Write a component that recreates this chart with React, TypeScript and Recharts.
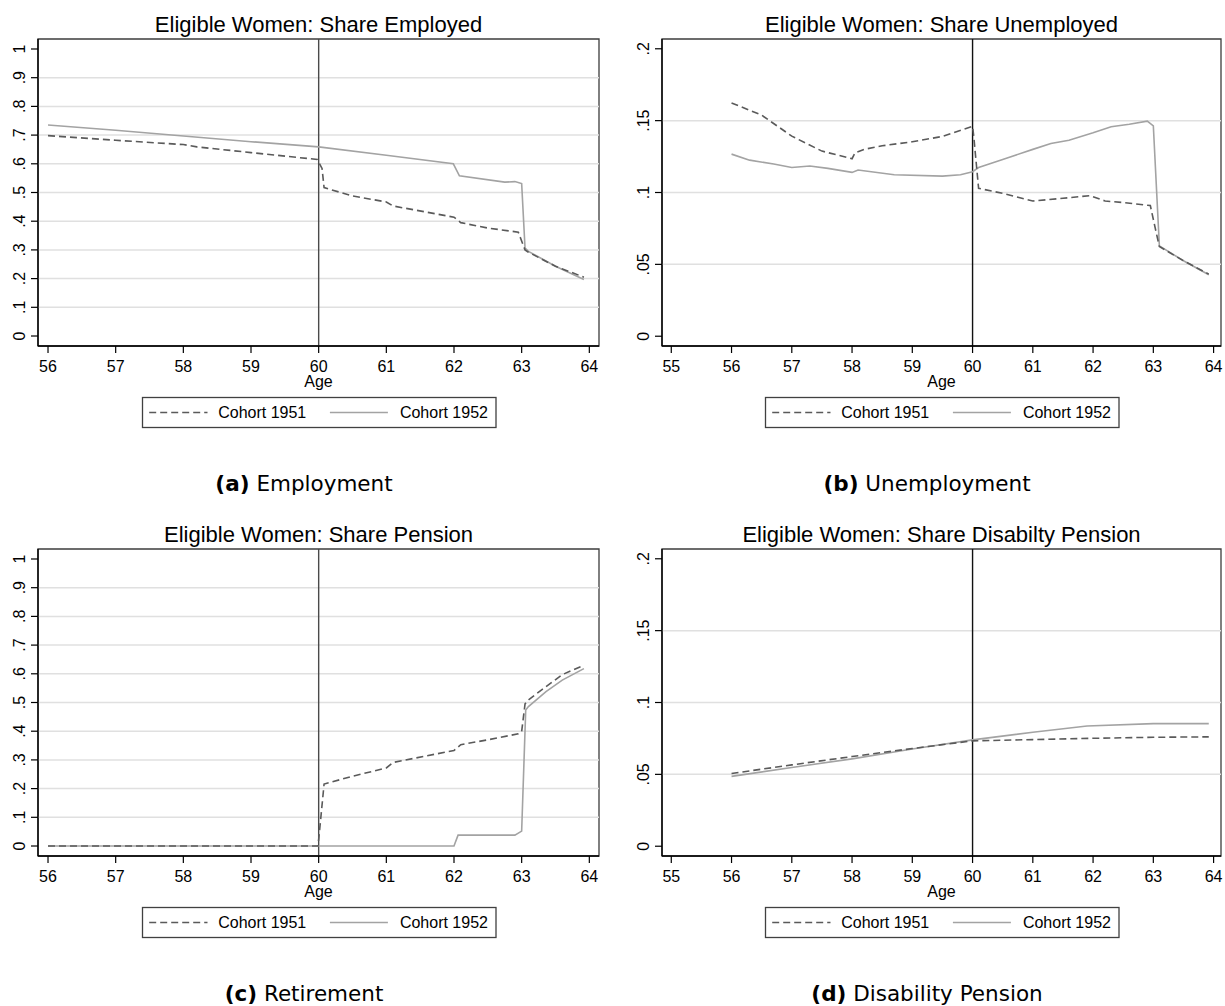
import { Line, LineChart, ReferenceArea, ReferenceLine, XAxis, YAxis } from "recharts"

const FONT = '"Liberation Sans", Arial, Helvetica, sans-serif'
const CAPTION_FONT = '"DejaVu Sans", "Noto Sans", sans-serif'

// axis ticks
const shareTicks = [0, 0.1, 0.2, 0.3, 0.4, 0.5, 0.6, 0.7, 0.8, 0.9, 1]
const smallShareTicks = [0, 0.05, 0.1, 0.15, 0.2]
const agesFrom56 = [56, 57, 58, 59, 60, 61, 62, 63, 64]
const agesFrom55 = [55, 56, 57, 58, 59, 60, 61, 62, 63, 64]

// (a) employment
const empAge1951 = [56, 57, 58, 58.2, 59, 59.98, 60.05, 60.08, 60.5, 61, 61.1, 62, 62.1, 62.5, 62.95, 63.05, 63.1, 63.5, 63.92]
const emp1951 = [0.698, 0.682, 0.667, 0.659, 0.639, 0.615, 0.584, 0.517, 0.488, 0.467, 0.453, 0.414, 0.395, 0.376, 0.362, 0.3, 0.292, 0.243, 0.205]
const empAge1952 = [56, 57, 58, 59, 60, 61, 61.99, 62.08, 62.75, 62.9, 63.0, 63.05, 63.1, 63.5, 63.92]
const emp1952 = [0.735, 0.717, 0.697, 0.677, 0.659, 0.63, 0.6, 0.558, 0.536, 0.538, 0.531, 0.306, 0.295, 0.243, 0.197]

// (b) unemployment
const unempAge1951 = [56, 56.5, 57, 57.5, 58, 58.05, 58.2, 58.5, 59, 59.5, 60, 60.02, 60.1, 60.5, 61, 61.5, 61.95, 62.2, 62.5, 62.95, 63.05, 63.1, 63.5, 63.92]
const unemp1951 = [0.1623, 0.1538, 0.1392, 0.1288, 0.1235, 0.1276, 0.13, 0.1325, 0.1353, 0.139, 0.146, 0.139, 0.1029, 0.0994, 0.0941, 0.096, 0.0978, 0.0941, 0.093, 0.0909, 0.0717, 0.0624, 0.0525, 0.0432]
const unempAge1952 = [56, 56.3, 56.7, 57, 57.3, 57.6, 58, 58.1, 58.7, 59.5, 59.8, 60, 60.1, 60.5, 61, 61.3, 61.6, 62, 62.3, 62.6, 62.9, 63.0, 63.1, 63.5, 63.92]
const unemp1952 = [0.1267, 0.1225, 0.1198, 0.1174, 0.1184, 0.1168, 0.114, 0.1156, 0.1124, 0.1114, 0.1124, 0.1145, 0.1174, 0.123, 0.13, 0.1341, 0.1364, 0.1415, 0.1457, 0.1475, 0.1496, 0.1464, 0.0629, 0.0525, 0.0428]

// (c) retirement
const penAge1951 = [56, 59.99, 60.02, 60.08, 60.5, 61, 61.1, 62, 62.1, 62.5, 62.95, 63.0, 63.05, 63.1, 63.3, 63.6, 63.92]
const pen1951 = [0, 0, 0.07, 0.216, 0.243, 0.272, 0.291, 0.333, 0.353, 0.37, 0.391, 0.399, 0.495, 0.509, 0.545, 0.597, 0.63]
const penAge1952 = [56, 62.0, 62.06, 62.9, 63.0, 63.06, 63.1, 63.36, 63.6, 63.92]
const pen1952 = [0, 0, 0.038, 0.038, 0.052, 0.474, 0.486, 0.538, 0.578, 0.618]

// (d) disability pension
const disAge1951 = [56, 57, 58, 59, 60, 61, 62, 63, 63.92]
const dis1951 = [0.0506, 0.0566, 0.0624, 0.068, 0.0733, 0.0742, 0.0751, 0.0758, 0.0761]
const disAge1952 = [56, 57, 58, 59, 60, 61, 61.9, 63, 63.92]
const dis1952 = [0.0486, 0.0548, 0.0608, 0.0677, 0.074, 0.0793, 0.0837, 0.0853, 0.0853]

const toSeries = (ages: number[], vals: number[]) => ages.map((age, i) => ({ age, v: vals[i] }))

const fmtShare = (v: number) => (v === 0 || v === 1 ? String(v) : String(v).replace(/^0/, ""))

const XTick = ({ x, y, payload }: any) => (
  <text x={x} y={y + 11.5} textAnchor="middle" fontSize={16} fontFamily={FONT} fill="#000">
    {payload.value}
  </text>
)

const YTick = ({ x, y, payload }: any) => (
  <text
    x={x}
    y={y}
    transform={`rotate(-90 ${x} ${y})`}
    textAnchor="middle"
    fontSize={16}
    fontFamily={FONT}
    fill="#000"
  >
    {fmtShare(payload.value)}
  </text>
)

interface PanelProps {
  left: number
  top: number
  width: number
  plotLeft: number
  plotRight: number
  title: string
  tag: string
  caption: string
  xTicks: number[]
  xDomain: [number, number]
  yTicks: number[]
  yDomain: [number, number]
  s1951: { age: number; v: number }[]
  s1952: { age: number; v: number }[]
  cutColor: string
}

function Panel({
  left,
  top,
  width,
  plotLeft,
  plotRight,
  title,
  tag,
  caption,
  xTicks,
  xDomain,
  yTicks,
  yDomain,
  s1951,
  s1952,
  cutColor,
}: PanelProps) {
  const cx = (plotLeft + plotRight) / 2
  return (
    <div style={{ position: "absolute", left, top, width, height: 510 }}>
      <LineChart width={width} height={400} margin={{ top: 39, right: width - plotRight, bottom: 0, left: 0 }}>
        <XAxis
          type="number"
          dataKey="age"
          domain={xDomain}
          ticks={xTicks}
          interval={0}
          allowDataOverflow
          height={54}
          tickSize={7}
          tickMargin={7}
          axisLine={{ stroke: "#000", strokeWidth: 1.4 }}
          tickLine={{ stroke: "#000", strokeWidth: 1.2 }}
          tick={XTick}
        />
        <YAxis
          type="number"
          domain={yDomain}
          ticks={yTicks}
          interval={0}
          allowDataOverflow
          width={plotLeft}
          tickSize={7}
          tickMargin={6}
          axisLine={{ stroke: "#000", strokeWidth: 1.4 }}
          tickLine={{ stroke: "#000", strokeWidth: 1.2 }}
          tick={YTick}
        />
        {yTicks.slice(1, -1).map((t) => (
          <ReferenceLine key={`g-${t}`} y={t} stroke="#e0e0e0" strokeWidth={1.5} />
        ))}
        <ReferenceArea
          x1={xDomain[0]}
          x2={xDomain[1]}
          y1={yDomain[0]}
          y2={yDomain[1]}
          fill="none"
          stroke="#3c3c3c"
          strokeWidth={1.3}
        />
        <ReferenceLine x={60} stroke={cutColor} strokeWidth={1.4} />
        <Line
          data={s1952}
          dataKey="v"
          type="linear"
          stroke="#a3a3a3"
          strokeWidth={1.6}
          dot={false}
          activeDot={false}
          isAnimationActive={false}
        />
        <Line
          data={s1951}
          dataKey="v"
          type="linear"
          stroke="#5a5a5a"
          strokeWidth={1.6}
          strokeDasharray="7 4"
          dot={false}
          activeDot={false}
          isAnimationActive={false}
        />
      </LineChart>
      <svg
        width={width}
        height={510}
        style={{ position: "absolute", left: 0, top: 0, pointerEvents: "none" }}
      >
        <text x={cx} y={31.5} textAnchor="middle" fontSize={22} fontFamily={FONT} fill="#000">
          {title}
        </text>
        <text x={cx} y={387} textAnchor="middle" fontSize={16} fontFamily={FONT} fill="#000">
          Age
        </text>
        <rect x={cx - 176} y={397.5} width={353.5} height={30} fill="#fff" stroke="#404040" strokeWidth={1.3} />
        <line x1={cx - 169.3} x2={cx - 111} y1={412.5} y2={412.5} stroke="#5a5a5a" strokeWidth={1.6} strokeDasharray="7 4" />
        <text x={cx - 100.3} y={418.3} fontSize={16} fontFamily={FONT} fill="#000">
          Cohort 1951
        </text>
        <line x1={cx + 11.4} x2={cx + 69.4} y1={412.5} y2={412.5} stroke="#a3a3a3" strokeWidth={1.6} />
        <text x={cx + 81.4} y={418.3} fontSize={16} fontFamily={FONT} fill="#000">
          Cohort 1952
        </text>
        <text x={cx - 14.5} y={490.7} textAnchor="middle" fontSize={21.5} fontFamily={CAPTION_FONT} fill="#000">
          <tspan fontWeight="bold">{tag}</tspan>
          <tspan> {caption}</tspan>
        </text>
      </svg>
    </div>
  )
}

export default function App() {
  const shareDomain: [number, number] = [-0.0348, 1.0348]
  const smallDomain: [number, number] = [-0.0068, 0.2068]
  const leftX: [number, number] = [55.852, 64.143]
  const rightX: [number, number] = [54.846, 64.123]
  return (
    <div style={{ position: "relative", width: 1225, height: 1006, background: "#fff", overflow: "hidden" }}>
      <style>{"body{margin:0}"}</style>
      <Panel
        left={0}
        top={0}
        width={612}
        plotLeft={38}
        plotRight={599}
        title="Eligible Women: Share Employed"
        tag="(a)"
        caption="Employment"
        xTicks={agesFrom56}
        xDomain={leftX}
        yTicks={shareTicks}
        yDomain={shareDomain}
        s1951={toSeries(empAge1951, emp1951)}
        s1952={toSeries(empAge1952, emp1952)}
        cutColor="#4a4a4a"
      />
      <Panel
        left={624}
        top={0}
        width={601}
        plotLeft={38}
        plotRight={597}
        title="Eligible Women: Share Unemployed"
        tag="(b)"
        caption="Unemployment"
        xTicks={agesFrom55}
        xDomain={rightX}
        yTicks={smallShareTicks}
        yDomain={smallDomain}
        s1951={toSeries(unempAge1951, unemp1951)}
        s1952={toSeries(unempAge1952, unemp1952)}
        cutColor="#111"
      />
      <Panel
        left={0}
        top={510}
        width={612}
        plotLeft={38}
        plotRight={599}
        title="Eligible Women: Share Pension"
        tag="(c)"
        caption="Retirement"
        xTicks={agesFrom56}
        xDomain={leftX}
        yTicks={shareTicks}
        yDomain={shareDomain}
        s1951={toSeries(penAge1951, pen1951)}
        s1952={toSeries(penAge1952, pen1952)}
        cutColor="#4a4a4a"
      />
      <Panel
        left={624}
        top={510}
        width={601}
        plotLeft={38}
        plotRight={597}
        title="Eligible Women: Share Disabilty Pension"
        tag="(d)"
        caption="Disability Pension"
        xTicks={agesFrom55}
        xDomain={rightX}
        yTicks={smallShareTicks}
        yDomain={smallDomain}
        s1951={toSeries(disAge1951, dis1951)}
        s1952={toSeries(disAge1952, dis1952)}
        cutColor="#111"
      />
    </div>
  )
}
